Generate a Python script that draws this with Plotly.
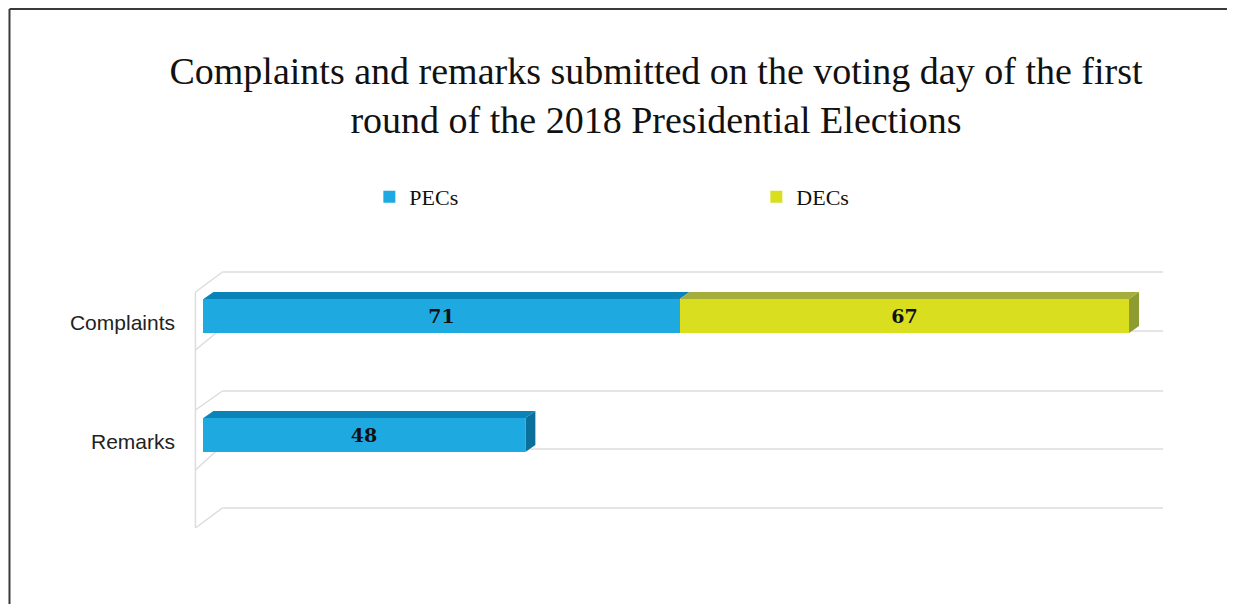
import plotly.graph_objects as go

# ---------------- data ----------------
categories = ["Complaints", "Remarks"]
pecs = [71, 48]
decs = [67, 0]
series_names = ["PECs", "DECs"]
title_text = ("Complaints and remarks submitted on the voting day of the first"
              "<br>round of the 2018 Presidential Elections")

# ---------------- style ----------------
PAGE_W, PAGE_H = 1235, 604
OFF = 8  # default page body margin
W, H = PAGE_W - OFF, PAGE_H - OFF
front_cols = ["#1FA9E1", "#D9DF1F"]
top_cols = ["#0A84B8", "#A5AE3A"]
side_cols = ["#0B6F9C", "#8E9B30"]
grid_col = "#DCDCDC"

# layout geometry (page pixels converted to figure pixels)
X_RANGE = [-2, 145]
PX_X = 6.71
L = (203 - OFF) - (0 - X_RANGE[0]) * PX_X
PW = (X_RANGE[1] - X_RANGE[0]) * PX_X
R = W - L - PW
T = 260 - OFF
B = H - (540 - OFF)
PH = H - T - B
Y_RANGE = [-0.882, 1.4706]
PX_Y = PH / (Y_RANGE[1] - Y_RANGE[0])

ypos = [1, 0]  # numeric positions of categories (top to bottom)
bar_w = 34 / PX_Y
DX = 10 / PX_X   # depth offset in data units
DY = 7 / PX_Y


def px_x(px):  # page px -> x data
    return X_RANGE[0] + (px - OFF - L) / PX_X


def px_y(py):  # page px -> y data
    return Y_RANGE[0] + (H - B - (py - OFF)) / PX_Y


def paper_x(px):
    return (px - OFF - L) / PW


def paper_y(py):
    return (H - B - (py - OFF)) / PH


fig = go.Figure()

# front faces (real bars)
for name, vals, col, base in [
    (series_names[0], pecs, front_cols[0], [0] * len(pecs)),
    (series_names[1], decs, front_cols[1], pecs),
]:
    fig.add_trace(go.Bar(
        name=name, y=ypos, x=vals, base=base, orientation="h", width=bar_w,
        marker=dict(color=col, line=dict(width=0)),
        text=[str(v) if v else "" for v in vals],
        textposition="inside", insidetextanchor="middle",
        textfont=dict(family="DejaVu Serif", size=19, color="#111111", weight="bold"),
        textangle=0, cliponaxis=False,
    ))

# 3D top and side faces computed from data values
for i, c in enumerate(ypos):
    segs = [(0, pecs[i], 0), (pecs[i], pecs[i] + decs[i], 1)]
    segs = [s for s in segs if s[1] > s[0]]
    yt = c + bar_w / 2
    yb = c - bar_w / 2
    for x0, x1, k in segs:
        fig.add_trace(go.Scatter(
            x=[x0, x1, x1 + DX, x0 + DX, x0], y=[yt, yt, yt + DY, yt + DY, yt],
            fill="toself", fillcolor=top_cols[k], mode="lines", line=dict(width=0),
            showlegend=False, hoverinfo="skip"))
    x0, x1, k = segs[-1]
    fig.add_trace(go.Scatter(
        x=[x1, x1 + DX, x1 + DX, x1, x1], y=[yb, yb + DY, yt + DY, yt, yb],
        fill="toself", fillcolor=side_cols[k], mode="lines", line=dict(width=0),
        showlegend=False, hoverinfo="skip"))

# walls / gridlines (decorative)
shapes = []
line = dict(color=grid_col, width=1.5)
back_px = [272, 391, 508]
front_px = [292, 410, 528]
for bp, fp in zip(back_px, front_px):
    shapes.append(dict(type="line", xref="x", yref="y", layer="below",
                       x0=px_x(222), x1=px_x(1163), y0=px_y(bp), y1=px_y(bp), line=line))
    shapes.append(dict(type="line", xref="x", yref="y", layer="below",
                       x0=px_x(195), x1=px_x(222), y0=px_y(fp), y1=px_y(bp), line=line))
for mp, fp in [(331, 350), (449, 470)]:
    shapes.append(dict(type="line", xref="x", yref="y", layer="below",
                       x0=px_x(218), x1=px_x(1163), y0=px_y(mp), y1=px_y(mp), line=line))
    shapes.append(dict(type="line", xref="x", yref="y", layer="below",
                       x0=px_x(195), x1=px_x(218), y0=px_y(fp), y1=px_y(mp), line=line))
shapes.append(dict(type="line", xref="x", yref="y", layer="below",
                   x0=px_x(195), x1=px_x(195), y0=px_y(292), y1=px_y(528), line=line))
# outer frame (top and left edges)
frame = dict(color="#3a3a3a", width=2)
shapes.append(dict(type="line", xref="paper", yref="paper",
                   x0=paper_x(OFF + 1), x1=paper_x(PAGE_W + 5), y0=paper_y(OFF + 1), y1=paper_y(OFF + 1), line=frame))
shapes.append(dict(type="line", xref="paper", yref="paper",
                   x0=paper_x(OFF + 1), x1=paper_x(OFF + 1), y0=paper_y(OFF + 1), y1=paper_y(PAGE_H + 5), line=frame))

fig.update_layout(
    width=W, height=H,
    margin=dict(l=L, r=R, t=T, b=B),
    paper_bgcolor="white", plot_bgcolor="white",
    barmode="overlay", bargap=0,
    shapes=shapes,
    title=dict(text=title_text, x=(656 - OFF) / W, xanchor="center", xref="container",
               y=1 - (84 - OFF) / H, yanchor="top", yref="container",
               font=dict(family="Liberation Serif", size=38, color="#111111")),
    showlegend=True,
    legend=dict(orientation="h", x=paper_x(369), xanchor="left",
                y=paper_y(197), yanchor="middle",
                entrywidth=342, entrywidthmode="pixels",
                font=dict(family="Liberation Serif", size=22, color="#111111"),
                itemclick=False, itemdoubleclick=False),
    xaxis=dict(range=X_RANGE, showgrid=False, zeroline=False, showline=False,
               showticklabels=False, fixedrange=True),
    yaxis=dict(range=Y_RANGE, tickmode="array", tickvals=ypos, ticktext=categories,
               showgrid=False, zeroline=False, showline=False, ticks="",
               ticklabelstandoff=14, ticklabelshift=7,
               tickfont=dict(family="Liberation Sans", size=21, color="#222222"),
               fixedrange=True),
)

fig.write_html("out.html")
